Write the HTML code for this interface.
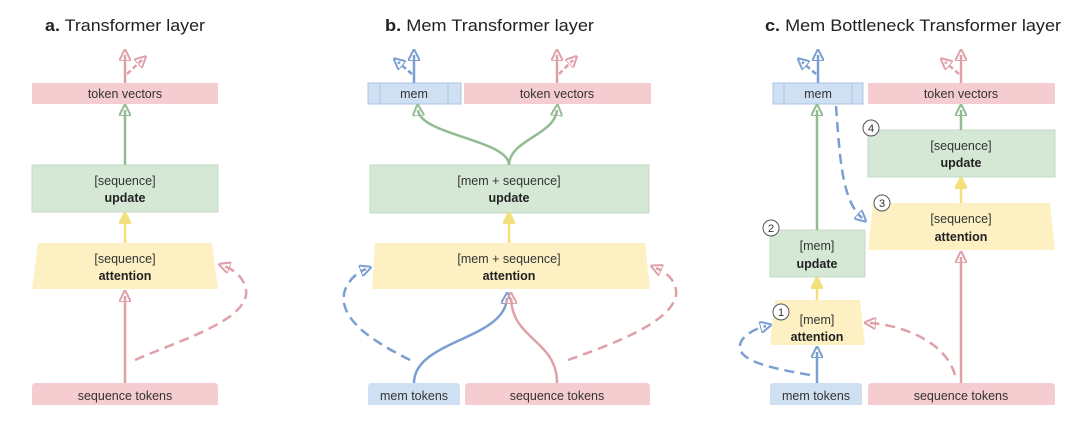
<!DOCTYPE html>
<html><head><meta charset="utf-8"><style>
html,body{margin:0;padding:0;background:#fff;}
svg{display:block;font-family:"Liberation Sans",sans-serif;}
.t{font-size:12.5px;fill:#333;text-anchor:middle}
.b{font-size:12.5px;font-weight:bold;fill:#222;text-anchor:middle}
.h{font-size:17px;fill:#222}
</style></head><body>
<svg width="1080" height="429" viewBox="0 0 1080 429">
<defs>
<marker id="ar" markerWidth="12" markerHeight="12" refX="6" refY="6" orient="auto" markerUnits="userSpaceOnUse"><path d="M0,0 L12,6 L0,12 Z" fill="none" stroke="#e0a0a8" stroke-width="2"/></marker>
<marker id="ab" markerWidth="12" markerHeight="12" refX="6" refY="6" orient="auto" markerUnits="userSpaceOnUse"><path d="M0,0 L12,6 L0,12 Z" fill="none" stroke="#7a9fd0" stroke-width="2"/></marker>
<marker id="ag" markerWidth="12" markerHeight="12" refX="6" refY="6" orient="auto" markerUnits="userSpaceOnUse"><path d="M0,0 L12,6 L0,12 Z" fill="none" stroke="#93bb93" stroke-width="2"/></marker>
<marker id="ay" markerWidth="12" markerHeight="12" refX="6" refY="6" orient="auto" markerUnits="userSpaceOnUse"><path d="M0,0 L12,6 L0,12 Z" fill="#f4e07a" stroke="#f4e07a" stroke-width="2"/></marker>
</defs>

<text class="h" x="45" y="31" textLength="160" lengthAdjust="spacingAndGlyphs"><tspan font-weight="bold">a.</tspan> Transformer layer</text>
<text class="h" x="385" y="31" textLength="209" lengthAdjust="spacingAndGlyphs"><tspan font-weight="bold">b.</tspan> Mem Transformer layer</text>
<text class="h" x="765" y="31" textLength="296" lengthAdjust="spacingAndGlyphs"><tspan font-weight="bold">c.</tspan> Mem Bottleneck Transformer layer</text>

<!-- Panel a -->
<rect x="32" y="83" width="186" height="21" fill="#f5ccd0"/>
<text class="t" x="125" y="98">token vectors</text>
<rect x="32" y="165" width="186" height="47" fill="#d5e8d6" stroke="#c5d9c6"/>
<text class="t" x="125" y="185">[sequence]</text><text class="b" x="125" y="202">update</text>
<path d="M38,243 L212,243 L218,289 L32,289 Z" fill="#fdf1c4"/>
<text class="t" x="125" y="263">[sequence]</text><text class="b" x="125" y="280">attention</text>
<path d="M32,405 L32,387 Q32,383 36,383 L214,383 Q218,383 218,387 L218,405 Z" fill="#f5ccd0"/>
<text class="t" x="125" y="400">sequence tokens</text>
<line x1="125" y1="383" x2="125" y2="296" stroke="#e0a0a8" stroke-width="2.5" marker-end="url(#ar)"/>
<path d="M135,360 C180,340 250,320 246,290 C244,278 235,270 224,266" fill="none" stroke="#e0a0a8" stroke-width="2.5" stroke-dasharray="10,6" marker-end="url(#ar)"/>
<line x1="125" y1="243" x2="125" y2="218" stroke="#f4e07a" stroke-width="2.5" marker-end="url(#ay)"/>
<line x1="125" y1="165" x2="125" y2="110" stroke="#93bb93" stroke-width="2.5" marker-end="url(#ag)"/>
<line x1="125" y1="83" x2="125" y2="55" stroke="#e0a0a8" stroke-width="2.5" marker-end="url(#ar)"/>
<path d="M127,74 L142,60" stroke="#e0a0a8" stroke-width="2.5" stroke-dasharray="5,3" marker-end="url(#ar)"/>

<!-- Panel b -->
<rect x="368" y="83" width="93" height="21" fill="#cfe0f3" stroke="#a8c4e4"/>
<line x1="380" y1="83" x2="380" y2="104" stroke="#a8c4e4"/><line x1="448" y1="83" x2="448" y2="104" stroke="#a8c4e4"/>
<text class="t" x="414" y="98">mem</text>
<rect x="464" y="83" width="187" height="21" fill="#f5ccd0"/>
<text class="t" x="557" y="98">token vectors</text>
<rect x="370" y="165" width="279" height="48" fill="#d5e8d6" stroke="#c5d9c6"/>
<text class="t" x="509" y="185">[mem + sequence]</text><text class="b" x="509" y="202">update</text>
<path d="M375,243 L645,243 L650,289 L372,289 Z" fill="#fdf1c4"/>
<text class="t" x="509" y="263">[mem + sequence]</text><text class="b" x="509" y="280">attention</text>
<path d="M368,405 L368,387 Q368,383 372,383 L456,383 Q460,383 460,387 L460,405 Z" fill="#cfe0f3"/>
<text class="t" x="414" y="400">mem tokens</text>
<path d="M465,405 L465,387 Q465,383 469,383 L646,383 Q650,383 650,387 L650,405 Z" fill="#f5ccd0"/>
<text class="t" x="557" y="400">sequence tokens</text>
<path d="M414,383 C414,340 505,340 507,298" fill="none" stroke="#7a9fd0" stroke-width="2.5" marker-end="url(#ab)"/>
<path d="M557,383 C557,340 512,340 511,298" fill="none" stroke="#e0a0a8" stroke-width="2.5" marker-end="url(#ar)"/>
<path d="M410,360 C380,345 335,320 345,290 C350,278 358,272 366,269" fill="none" stroke="#7a9fd0" stroke-width="2.5" stroke-dasharray="10,6" marker-end="url(#ab)"/>
<path d="M568,360 C610,345 680,320 676,290 C674,278 665,272 656,268" fill="none" stroke="#e0a0a8" stroke-width="2.5" stroke-dasharray="10,6" marker-end="url(#ar)"/>
<line x1="509" y1="243" x2="509" y2="218" stroke="#f4e07a" stroke-width="2.5" marker-end="url(#ay)"/>
<path d="M509,165 C509,140 420,135 418,110" fill="none" stroke="#93bb93" stroke-width="2.5" marker-end="url(#ag)"/>
<path d="M509,165 C509,140 555,135 557,110" fill="none" stroke="#93bb93" stroke-width="2.5" marker-end="url(#ag)"/>
<line x1="414" y1="83" x2="414" y2="55" stroke="#7a9fd0" stroke-width="2.5" marker-end="url(#ab)"/>
<path d="M412,74 L398,62" stroke="#7a9fd0" stroke-width="2.5" stroke-dasharray="5,3" marker-end="url(#ab)"/>
<line x1="557" y1="83" x2="557" y2="55" stroke="#e0a0a8" stroke-width="2.5" marker-end="url(#ar)"/>
<path d="M559,74 L573,60" stroke="#e0a0a8" stroke-width="2.5" stroke-dasharray="5,3" marker-end="url(#ar)"/>

<!-- Panel c -->
<rect x="773" y="83" width="90" height="21" fill="#cfe0f3" stroke="#a8c4e4"/>
<line x1="784" y1="83" x2="784" y2="104" stroke="#a8c4e4"/><line x1="852" y1="83" x2="852" y2="104" stroke="#a8c4e4"/>
<text class="t" x="818" y="98">mem</text>
<rect x="868" y="83" width="187" height="21" fill="#f5ccd0"/>
<text class="t" x="961" y="98">token vectors</text>
<rect x="868" y="130" width="187" height="47" fill="#d5e8d6" stroke="#c5d9c6"/>
<text class="t" x="961" y="150">[sequence]</text><text class="b" x="961" y="167">update</text>
<path d="M873,203 L1050,203 L1055,250 L868,250 Z" fill="#fdf1c4"/>
<text class="t" x="961" y="223">[sequence]</text><text class="b" x="961" y="241">attention</text>
<rect x="770" y="230" width="95" height="47" fill="#d5e8d6" stroke="#c5d9c6"/>
<text class="t" x="817" y="250">[mem]</text><text class="b" x="817" y="268">update</text>
<path d="M775,300 L860,300 L865,345 L770,345 Z" fill="#fdf1c4"/>
<text class="t" x="817" y="324">[mem]</text><text class="b" x="817" y="341">attention</text>
<path d="M770,405 L770,387 Q770,383 774,383 L858,383 Q862,383 862,387 L862,405 Z" fill="#cfe0f3"/>
<text class="t" x="816" y="400">mem tokens</text>
<path d="M868,405 L868,387 Q868,383 872,383 L1051,383 Q1055,383 1055,387 L1055,405 Z" fill="#f5ccd0"/>
<text class="t" x="961" y="400">sequence tokens</text>
<line x1="817" y1="383" x2="817" y2="352" stroke="#7a9fd0" stroke-width="2.5" marker-end="url(#ab)"/>
<path d="M810,375 C770,368 730,360 742,340 C748,332 758,328 766,326" fill="none" stroke="#7a9fd0" stroke-width="2.5" stroke-dasharray="10,6" marker-end="url(#ab)"/>
<line x1="961" y1="383" x2="961" y2="257" stroke="#e0a0a8" stroke-width="2.5" marker-end="url(#ar)"/>
<path d="M955,375 C945,340 900,325 870,323" fill="none" stroke="#e0a0a8" stroke-width="2.5" stroke-dasharray="10,6" marker-end="url(#ar)"/>
<line x1="817" y1="300" x2="817" y2="283" stroke="#f4e07a" stroke-width="2.5" marker-end="url(#ay)"/>
<line x1="817" y1="230" x2="817" y2="110" stroke="#93bb93" stroke-width="2.5" marker-end="url(#ag)"/>
<path d="M836,106 C840,160 842,200 862,218" fill="none" stroke="#7a9fd0" stroke-width="2.5" stroke-dasharray="10,6" marker-end="url(#ab)"/>
<line x1="961" y1="203" x2="961" y2="183" stroke="#f4e07a" stroke-width="2.5" marker-end="url(#ay)"/>
<line x1="961" y1="130" x2="961" y2="110" stroke="#93bb93" stroke-width="2.5" marker-end="url(#ag)"/>
<line x1="818" y1="83" x2="818" y2="55" stroke="#7a9fd0" stroke-width="2.5" marker-end="url(#ab)"/>
<path d="M816,74 L802,62" stroke="#7a9fd0" stroke-width="2.5" stroke-dasharray="5,3" marker-end="url(#ab)"/>
<line x1="961" y1="83" x2="961" y2="55" stroke="#e0a0a8" stroke-width="2.5" marker-end="url(#ar)"/>
<path d="M959,74 L945,62" stroke="#e0a0a8" stroke-width="2.5" stroke-dasharray="5,3" marker-end="url(#ar)"/>

<g fill="#fff" stroke="#555" stroke-width="1">
<circle cx="871" cy="128" r="8"/><circle cx="882" cy="203" r="8"/><circle cx="771" cy="228" r="8"/><circle cx="781" cy="312" r="8"/>
</g>
<g font-size="11" fill="#333" text-anchor="middle">
<text x="871" y="132">4</text><text x="882" y="207">3</text><text x="771" y="232">2</text><text x="781" y="316">1</text>
</g>
</svg>
</body></html>
